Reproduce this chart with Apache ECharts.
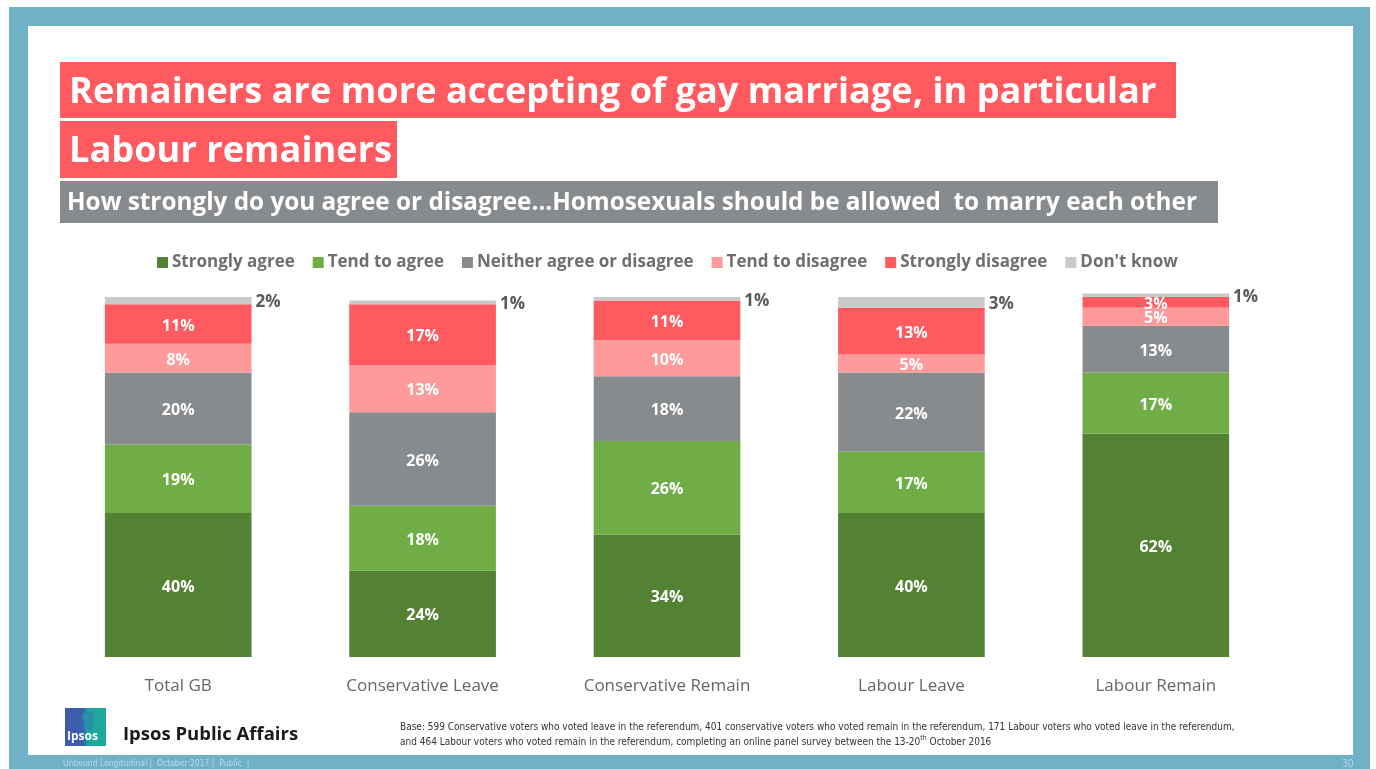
<!DOCTYPE html>
<html>
<head>
<meta charset="utf-8">
<script src="https://cdn.jsdelivr.net/npm/echarts@6/dist/echarts.min.js"></script>
<style>
  html, body { margin: 0; padding: 0; background: #ffffff; }
  #chart { width: 1376px; height: 769px; }
</style>
</head>
<body>
<div id="chart"></div>
<script>
// Groups of voters shown along the x axis
const categories = ['Total GB', 'Conservative Leave', 'Conservative Remain', 'Labour Leave', 'Labour Remain'];

// Share of each group (%) giving each answer
const stronglyAgree    = [40, 24, 34, 40, 62];
const tendToAgree      = [19, 18, 26, 17, 17];
const neither          = [20, 26, 18, 22, 13];
const tendToDisagree   = [8, 13, 10, 5, 5];
const stronglyDisagree = [11, 17, 11, 13, 3];
const dontKnow         = [2, 1, 1, 3, 1];

const seriesNames = ['Strongly agree', 'Tend to agree', 'Neither agree or disagree', 'Tend to disagree', 'Strongly disagree', "Don't know"];
const seriesData = [stronglyAgree, tendToAgree, neither, tendToDisagree, stronglyDisagree, dontKnow];
const seriesColors = ['#548235', '#70ad47', '#888b8e', '#ff9a9b', '#ff5a5f', '#c9c9c9'];

const FONT = '"Open Sans", "Noto Sans", sans-serif';
const NARROW = '"Liberation Sans Narrow", "DejaVu Sans Condensed", sans-serif';
const TEAL = '#70b1c8';

const series = seriesNames.map((name, i) => {
  const isDK = i === seriesNames.length - 1;
  return {
    name: name,
    type: 'bar',
    stack: 'total',
    barCategoryGap: '40%',
    clip: false,
    itemStyle: { color: seriesColors[i] },
    label: isDK ? {
      show: true,
      position: 'right',
      distance: 4,
      offset: [0, 2],
      formatter: '{c}%',
      color: '#595959',
      fontFamily: FONT,
      fontWeight: 'bold',
      fontSize: 17
    } : {
      show: true,
      position: 'inside',
      offset: [0, 2],
      formatter: '{c}%',
      color: '#ffffff',
      fontFamily: FONT,
      fontWeight: 'bold',
      fontSize: 16
    },
    emphasis: { disabled: true },
    data: seriesData[i]
  };
});

const chart = echarts.init(document.getElementById('chart'), null, { renderer: 'canvas' });

chart.setOption({
  animation: false,
  backgroundColor: '#ffffff',
  legend: {
    top: 249,
    left: 152,
    itemWidth: 11,
    itemHeight: 11,
    itemGap: 18,
    icon: 'rect',
    selectedMode: false,
    textStyle: { color: '#6f6f6f', fontFamily: FONT, fontWeight: 'bold', fontSize: 17, padding: [0, 0, 0, -1] },
    data: seriesNames
  },
  grid: { left: 56, right: 98, top: 297, bottom: 112, containLabel: false },
  xAxis: {
    type: 'category',
    data: categories,
    axisLine: { show: false },
    axisTick: { show: false },
    axisLabel: { color: '#666666', fontFamily: FONT, fontSize: 17, margin: 21 }
  },
  yAxis: {
    type: 'value',
    min: 0,
    max: 100,
    show: false,
    splitLine: { show: false }
  },
  series: series,
  graphic: [
    // slide frame
    { type: 'rect', z: -10, shape: { x: 9, y: 7, width: 1361, height: 762 }, style: { fill: TEAL } },
    { type: 'rect', z: -9, shape: { x: 28, y: 26, width: 1325, height: 729 }, style: { fill: '#ffffff' } },
    // headline boxes
    { type: 'rect', shape: { x: 60, y: 62, width: 1116, height: 56 }, style: { fill: '#ff5a5f' } },
    { type: 'text', x: 69, y: 93, style: { text: 'Remainers are more accepting of gay marriage, in particular', fill: '#ffffff', font: 'bold 36.2px ' + FONT, verticalAlign: 'middle' } },
    { type: 'rect', shape: { x: 60, y: 121, width: 337, height: 57 }, style: { fill: '#ff5a5f' } },
    { type: 'text', x: 69, y: 152, style: { text: 'Labour remainers', fill: '#ffffff', font: 'bold 36.2px ' + FONT, verticalAlign: 'middle' } },
    // question box
    { type: 'rect', shape: { x: 60, y: 181, width: 1158, height: 42 }, style: { fill: '#888b8e' } },
    { type: 'text', x: 67, y: 203, style: { text: 'How strongly do you agree or disagree\u2026Homosexuals should be allowed  to marry each other', fill: '#ffffff', font: 'bold 24.3px ' + FONT, verticalAlign: 'middle' } },
    // logo
    {
      type: 'rect',
      shape: { x: 65, y: 708, width: 41, height: 38 },
      style: {
        fill: new echarts.graphic.LinearGradient(0, 0, 1, 0, [
          { offset: 0, color: '#3f5aa9' },
          { offset: 0.45, color: '#3a62ad' },
          { offset: 0.55, color: '#1ca69c' },
          { offset: 1, color: '#1fa89d' }
        ])
      }
    },
    { type: 'circle', shape: { cx: 88, cy: 717, r: 6 }, style: { fill: '#2a8fa6' } },
    { type: 'rect', shape: { x: 84, y: 720, width: 9, height: 10 }, style: { fill: '#2a8fa6' } },
    { type: 'text', left: 67, top: 731, style: { text: 'Ipsos', fill: '#ffffff', font: 'bold 12px ' + FONT } },
    { type: 'text', x: 123, y: 735, style: { text: 'Ipsos Public Affairs', fill: '#1a1a1a', font: 'bold 18.5px ' + FONT, verticalAlign: 'middle' } },
    // base note
    {
      type: 'text', left: 400, top: 722,
      style: {
        rich: {
          t: { fill: '#333333', font: '10px ' + NARROW, lineHeight: 15 },
          sup: { fill: '#333333', font: '7px ' + NARROW, verticalAlign: 'top', padding: [0, 0, 4, 0] }
        },
        text: '{t|Base: 599 Conservative voters who voted leave in the referendum, 401 conservative voters who voted remain in the referendum, 171 Labour voters who voted leave in the referendum,}\n' +
              '{t|and 464 Labour voters who voted remain in the referendum, completing an online panel survey between the 13-20}{sup|th}{t| October 2016}'
      }
    },
    // footer
    { type: 'text', x: 63, y: 764, style: { text: 'Unbound Longitudinal |  October 2017 |  Public  |', fill: '#b5dcea', font: '8.5px ' + NARROW, verticalAlign: 'middle' } },
    { type: 'text', x: 1342, y: 764, style: { text: '30', fill: '#b5dcea', font: '10px ' + FONT, verticalAlign: 'middle' } }
  ]
});
</script>
</body>
</html>
